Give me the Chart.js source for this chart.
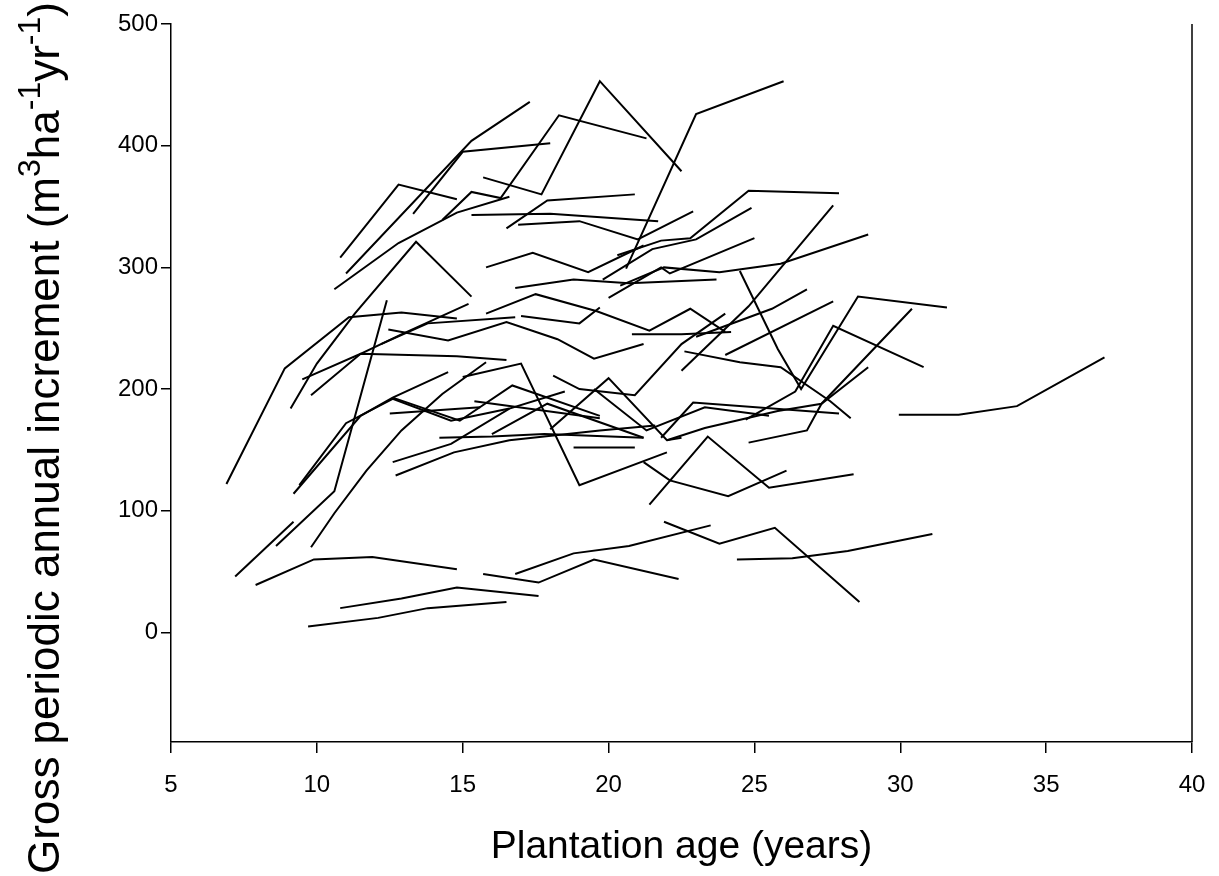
<!DOCTYPE html>
<html>
<head>
<meta charset="utf-8">
<script src="https://cdn.jsdelivr.net/npm/chart.js@4"></script>
<style>
  html, body { margin: 0; padding: 0; background: #fff; }
  #wrap { width: 1219px; height: 876px; }
</style>
</head>
<body>
<div id="wrap"><canvas id="chart" width="1219" height="876"></canvas></div>
<script>
// Plantation age (years) for each stand's remeasurements
const standAges = [
  [9.7,12.1,13.8,16.5],
  [10.8,12.9,14.8,17.6],
  [7.9,9.9,11.9,14.8],
  [15.7,17.6,19.5,22.4],
  [16.8,18.8,20.7,23.5],
  [21.9,23.8,25.7,28.6],
  [24.4,26.3,28.2,31.1],
  [6.9,8.9,11.1,12.9,14.8],
  [7.2,9.2],
  [8.6,10.6,12.4],
  [9.8,10.6,11.7,12.9,14.3,15.8],
  [9.2,11.5,12.6,14.5],
  [9.4,11.0,12.6,14.6,16.6],
  [9.1,10.0,11.3,13.4,15.3],
  [9.5,11.5,14.8,16.5],
  [9.8,11.5,12.9,15.2],
  [10.8,12.8,14.8],
  [11.0,15.3,17.3],
  [13.3,15.0,18.0],
  [14.3,15.3,16.3,18.3,21.3],
  [15.7,17.7,19.7,22.5],
  [20.6,23.0,26.0],
  [10.6,12.8,14.8,16.6],
  [15.3,18.0,21.7],
  [16.5,17.9,20.9],
  [20.3,21.8,22.8,24.8,27.9],
  [20.4,21.9,23.8,25.9,28.9],
  [20.0,21.8,22.1,25.0],
  [29.95,32.0,34.0,37.0],
  [24.5,25.8,26.6,28.55,31.6],
  [24.7,26.4,27.7,30.8],
  [24.8,26.8,27.3,30.4],
  [21.4,23.4,25.5,28.4],
  [21.2,22.1,24.1,26.1],
  [12.7,14.7,16.6,19.7,21.6],
  [12.6,14.6,16.6,18.5],
  [15.0,17.0,19.0,22.0],
  [14.2,16.0,17.8,21.2],
  [18.8,20.9],
  [12.6,14.9,16.7,19.7],
  [15.4,19.7],
  [18.0,20.0,22.0,22.5],
  [16.0,17.9,21.2],
  [18.1,19.0,20.9,22.5,24.0],
  [12.45,14.5,16.5,18.25,19.5,21.2],
  [12.2,13.8,16.8],
  [20.8,22.5,24.2],
  [21.8,22.9,27.9],
  [22.0,23.3,25.8,27.3,28.9],
  [23.0,25.6,26.8],
  [24.0,27.7],
  [17.0,19.0,19.7],
  [12.5,15.6],
  [22.5,24.8,27.7],
  [16.9,19.0,21.0,22.9],
  [15.8,17.4,19.3,21.2],
  [19.8,21.5,23.0,24.9],
  [16.8,18.8,20.7,23.7],
  [15.8,17.5,19.6,21.4,22.8,24.0],
  [22.6,24.5,25.9,27.6,28.3],
  [19.5,21.3,23.3,25.5]
];

// Gross periodic annual increment (m3 ha-1 yr-1), same order as standAges
const standIncrements = [
  [5,12,20,25],
  [20,28,37,30],
  [39,60,62,52],
  [48,41,60,44],
  [48,65,71,88],
  [91,73,86,25],
  [60,61,67,81],
  [122,217,259,263,258],
  [46,91],
  [71,116,273],
  [70,98,133,166,196,222],
  [114,178,193,214],
  [121,172,192,174,184],
  [184,221,262,321,276],
  [208,229,227,224],
  [195,229,245,270],
  [308,368,356],
  [295,404,436],
  [344,395,402],
  [339,362,357,425,406],
  [374,360,453,379],
  [299,426,453],
  [282,320,345,358],
  [343,344,338],
  [332,355,360],
  [310,322,324,363,361],
  [285,300,296,303,327],
  [275,300,295,324],
  [179,179,186,226],
  [297,233,200,276,267],
  [175,198,252,218],
  [156,166,188,266],
  [105,161,119,130],
  [140,125,112,133],
  [129,148,158,166,170],
  [140,155,184,198],
  [210,221,121,148],
  [160,161,163,160],
  [152,152],
  [193,174,203,178],
  [190,176],
  [167,209,158,160],
  [163,188,160],
  [211,200,195,237,262],
  [249,240,255,241,225,237],
  [237,254,259],
  [245,245,247],
  [160,189,180],
  [158,168,182,188,218],
  [243,266,282],
  [228,272],
  [260,254,267],
  [180,185],
  [215,268,351],
  [335,338,323,346],
  [300,312,296,318],
  [290,315,323,349],
  [283,290,287,290],
  [262,278,264,248,266,247],
  [231,222,218,190,176],
  [200,166,185,178]
];

const xTicks = [5,10,15,20,25,30,35,40];
const yTicks = [0,100,200,300,400,500];
const xTitle = 'Plantation age (years)';
// y title pieces: [text, isSuperscript]
const yTitleParts = [
  ['Gross periodic annual increment (m', false],
  ['3', true], ['ha', false], ['-1', true], ['yr', false], ['-1', true], [')', false]
];

const FONT = 'Arial, "Liberation Sans", sans-serif';

const datasets = standAges.map((ages, i) => ({
  data: ages.map((a, j) => ({ x: a, y: standIncrements[i][j] })),
  showLine: true,
  borderColor: '#000',
  borderWidth: 2,
  pointRadius: 0,
  fill: false,
  tension: 0
}));

// axis titles + right frame line
const decor = {
  id: 'decor',
  afterDraw(chart) {
    const { ctx, chartArea: ca } = chart;
    ctx.save();
    ctx.strokeStyle = '#000';
    ctx.lineWidth = 1.5;
    ctx.beginPath();
    ctx.moveTo(ca.right, ca.top);
    ctx.lineTo(ca.right, ca.bottom);
    ctx.stroke();

    ctx.fillStyle = '#000';
    ctx.font = '39px ' + FONT;
    ctx.textAlign = 'center';
    ctx.textBaseline = 'alphabetic';
    ctx.fillText(xTitle, (ca.left + ca.right) / 2, 858);

    // rotated y title with superscripts
    const big = '44px ' + FONT, small = '32px ' + FONT;
    let total = 0;
    yTitleParts.forEach(([t, sup]) => {
      ctx.font = sup ? small : big;
      total += ctx.measureText(t).width;
    });
    ctx.translate(59, 438);
    ctx.rotate(-Math.PI / 2);
    ctx.textAlign = 'left';
    let x = -total / 2;
    yTitleParts.forEach(([t, sup]) => {
      ctx.font = sup ? small : big;
      ctx.fillText(t, x, sup ? -19 : 0);
      x += ctx.measureText(t).width;
    });
    ctx.restore();
  }
};

new Chart(document.getElementById('chart'), {
  type: 'scatter',
  data: { datasets },
  plugins: [decor],
  options: {
    responsive: false,
    animation: false,
    layout: { padding: { left: 0, right: 27, top: 24, bottom: 0 } },
    plugins: { legend: { display: false }, tooltip: { enabled: false } },
    scales: {
      x: {
        type: 'linear',
        min: 5, max: 40,
        afterBuildTicks: (s) => { s.ticks = xTicks.map(v => ({ value: v })); },
        afterFit: (s) => { s.height = 134; s.paddingLeft = 0; s.paddingRight = 0; },
        border: { display: true, color: '#000', width: 1.5 },
        grid: { display: true, drawOnChartArea: false, drawTicks: true, tickLength: 11, color: '#000', lineWidth: 1.5 },
        ticks: { color: '#000', font: { family: FONT, size: 24 }, padding: 18, maxRotation: 0, autoSkip: false }
      },
      y: {
        type: 'linear',
        min: -90, max: 500,
        afterBuildTicks: (s) => { s.ticks = yTicks.map(v => ({ value: v })); },
        afterFit: (s) => { s.width = 171; s.paddingTop = 0; s.paddingBottom = 0; },
        border: { display: true, color: '#000', width: 1.5 },
        grid: { display: true, drawOnChartArea: false, drawTicks: true, tickLength: 10, color: '#000', lineWidth: 1.5 },
        ticks: { color: '#000', font: { family: FONT, size: 24 }, padding: 3, autoSkip: false }
      }
    }
  }
});
</script>
</body>
</html>
